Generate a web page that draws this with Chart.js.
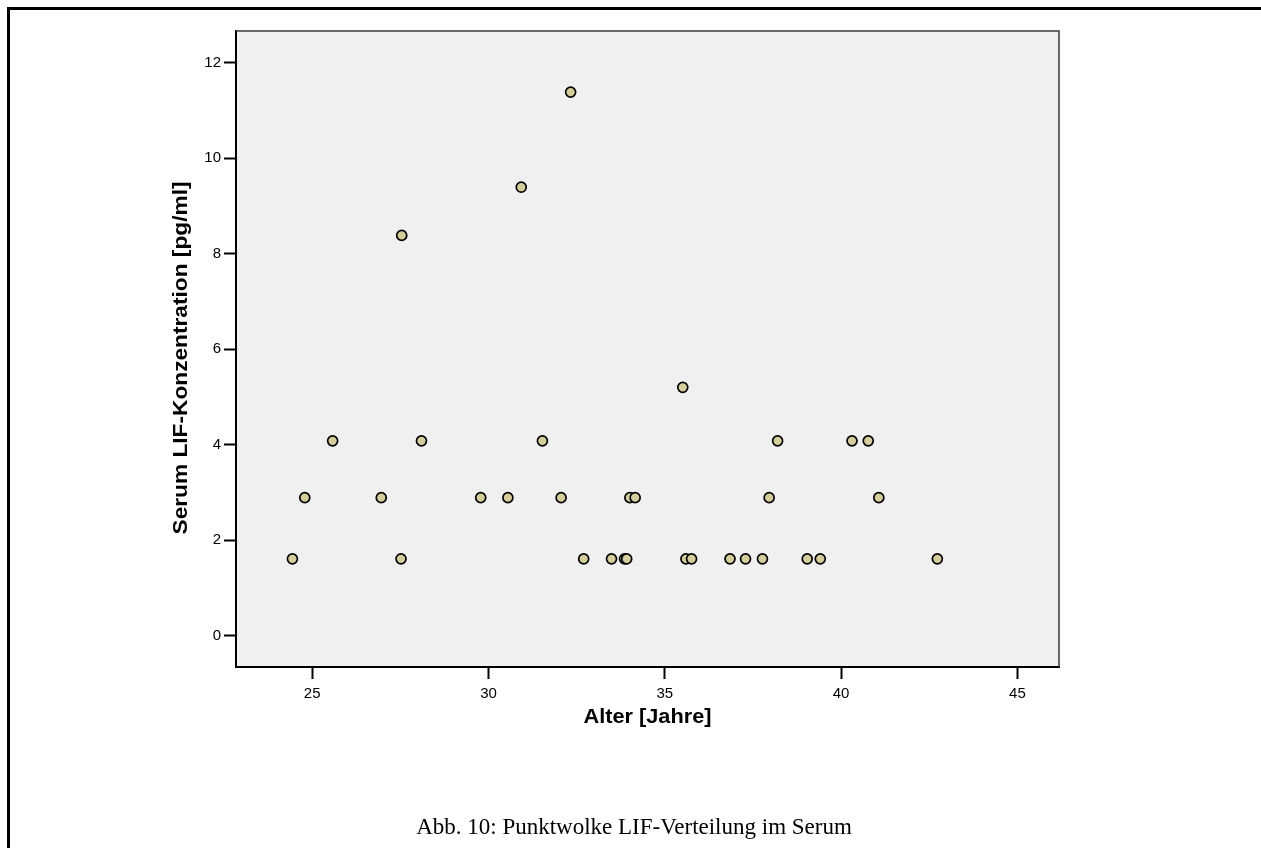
<!DOCTYPE html>
<html>
<head>
<meta charset="utf-8">
<script src="https://cdn.jsdelivr.net/npm/chart.js@4/dist/chart.umd.min.js"></script>
<style>
  html, body { margin: 0; padding: 0; background: #fff; }
  #wrap { position: relative; width: 1261px; height: 848px; }
</style>
</head>
<body>
<div id="wrap"><canvas id="scatterChart"></canvas></div>
<script>
// Alter (Jahre) und Serum-LIF (pg/ml) je Patientin
var ages = [24.44, 24.79, 25.58, 26.96, 27.52, 27.54, 28.10, 29.78, 30.55, 30.93,
            31.53, 32.06, 32.33, 32.70, 33.49, 33.86, 33.92, 34.01, 34.16, 35.51,
            35.60, 35.76, 36.85, 37.29, 37.77, 37.96, 38.20, 39.04, 39.41, 40.31,
            40.77, 41.07, 42.73];
var lifValues = [1.61, 2.89, 4.08, 2.89, 1.61, 8.38, 4.08, 2.89, 2.89, 9.39,
                 4.08, 2.89, 11.38, 1.61, 1.61, 1.61, 1.61, 2.89, 2.89, 5.20,
                 1.61, 1.61, 1.61, 1.61, 1.61, 2.89, 4.08, 1.61, 1.61, 4.08,
                 4.08, 2.89, 1.61];

var xTicks = [25, 30, 35, 40, 45];
var yTicks = [0, 2, 4, 6, 8, 10, 12];

var xTitle = 'Alter [Jahre]';
var yTitle = 'Serum LIF-Konzentration [pg/ml]';
var caption = 'Abb. 10: Punktwolke LIF-Verteilung im Serum';

var points = ages.map(function (a, i) { return { x: a, y: lifValues[i] }; });

// text drawn with a stretch so it fills a given length
function stretchedText(ctx, text, x, y, width, rotate) {
    ctx.save();
    ctx.translate(x, y);
    if (rotate) ctx.rotate(-Math.PI / 2);
    var w = ctx.measureText(text).width;
    ctx.scale(width / w, 1);
    ctx.fillText(text, 0, 0);
    ctx.restore();
}

var decor = {
    id: 'decor',
    beforeDraw: function (chart) {
        var c = chart.ctx, a = chart.chartArea;
        c.save();
        c.fillStyle = '#f0f0f0';
        c.fillRect(a.left, a.top, a.right - a.left, a.bottom - a.top);
        c.restore();
    },
    afterDraw: function (chart) {
        var c = chart.ctx, a = chart.chartArea;
        c.save();
        // plot frame (top and right)
        c.strokeStyle = '#3a3a3a';
        c.lineWidth = 1.5;
        c.beginPath();
        c.moveTo(a.left, a.top);
        c.lineTo(a.right, a.top);
        c.lineTo(a.right, a.bottom);
        c.stroke();

        // page frame
        c.fillStyle = '#000';
        c.fillRect(7, 7, 1254, 3);
        c.fillRect(7, 7, 3, 841);

        // axis titles
        c.fillStyle = '#000';
        c.font = 'bold 20px "Liberation Sans", Arial, sans-serif';
        c.textAlign = 'center';
        c.textBaseline = 'alphabetic';
        stretchedText(c, xTitle, (a.left + a.right) / 2, 723, 128, false);
        stretchedText(c, yTitle, 187, 358, 353, true);

        // caption
        c.font = '23px "Liberation Serif", "Times New Roman", serif';
        c.textAlign = 'center';
        c.fillText(caption, 634, 834);
        c.restore();
    }
};

var ctx = document.getElementById('scatterChart').getContext('2d');
var myChart = new Chart(ctx, {
    type: 'scatter',
    data: {
        datasets: [{
            label: 'LIF',
            data: points,
            pointRadius: 5,
            pointHoverRadius: 5,
            backgroundColor: '#d5cd9b',
            borderColor: '#000',
            borderWidth: 1.7
        }]
    },
    plugins: [decor],
    options: {
        responsive: true,
        maintainAspectRatio: false,
        animation: false,
        layout: {
            padding: { left: 0, top: 31, right: 202, bottom: 0 }
        },
        plugins: {
            legend: { display: false },
            tooltip: { enabled: false }
        },
        scales: {
            x: {
                type: 'linear',
                min: 22.84,
                max: 46.18,
                afterBuildTicks: function (axis) {
                    axis.ticks = xTicks.map(function (v) { return { value: v }; });
                },
                afterFit: function (scale) { scale.height = 181; },
                grid: {
                    drawOnChartArea: false,
                    drawTicks: true,
                    tickLength: 12,
                    tickColor: '#000',
                    tickWidth: 2
                },
                border: { display: true, color: '#000', width: 2 },
                ticks: {
                    color: '#000',
                    padding: 6,
                    maxRotation: 0,
                    autoSkip: false,
                    font: { family: '"Liberation Sans", Arial, sans-serif', size: 15 }
                }
            },
            y: {
                type: 'linear',
                min: -0.655,
                max: 12.66,
                afterBuildTicks: function (axis) {
                    axis.ticks = yTicks.map(function (v) { return { value: v }; });
                },
                afterFit: function (scale) { scale.width = 236; },
                grid: {
                    drawOnChartArea: false,
                    drawTicks: true,
                    tickLength: 12,
                    tickColor: '#000',
                    tickWidth: 2
                },
                border: { display: true, color: '#000', width: 2 },
                ticks: {
                    color: '#000',
                    padding: 3,
                    autoSkip: false,
                    font: { family: '"Liberation Sans", Arial, sans-serif', size: 15 }
                }
            }
        }
    }
});
</script>
</body>
</html>
